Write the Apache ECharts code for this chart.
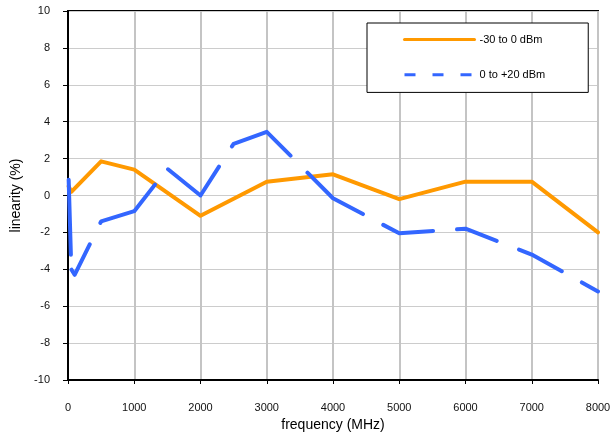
<!DOCTYPE html>
<html>
<head>
<meta charset="utf-8">
<script src="https://cdn.jsdelivr.net/npm/echarts@6/dist/echarts.min.js"></script>
<style>
html,body{margin:0;padding:0;background:#fff;}
#chart{width:611px;height:434px;}
</style>
</head>
<body>
<div id="chart"></div>
<script>
// Data
var seriesNames = ['-30 to 0 dBm', '0 to +20 dBm'];
var freqLow = [10, 50, 500, 1000, 2000, 3000, 4000, 5000, 6000, 7000, 8000];
var linLow  = [0.5, 0.2, 1.85, 1.4, -1.1, 0.75, 1.15, -0.2, 0.75, 0.75, -2.0];
var freqHigh = [10, 50, 100, 500, 1000, 1500, 2000, 2500, 3000, 4000, 5000, 6000, 7000, 8000];
var linHigh  = [0.85, -4.0, -4.3, -1.4, -0.85, 1.45, 0.0, 2.8, 3.45, -0.15, -2.05, -1.8, -3.2, -5.2];
var xTicks = { min: 0, max: 8000, step: 1000 };
var yTicks = { min: -10, max: 10, step: 2 };

function pairs(xs, ys) { return xs.map(function (x, i) { return [x, ys[i]]; }); }
function plain(v) { return String(v); }

// long-dash stroke pattern (line style only)
var blueDash = [75, 15, 40, 24, 70, 21, 76, 24, 72, 24, 70, 23, 52, 24, 42, 24, 48, 23, 60, 30];

var font = '"Liberation Sans", Arial, sans-serif';
var chart = echarts.init(document.getElementById('chart'), null, { renderer: 'canvas' });
chart.setOption({
  animation: false,
  backgroundColor: '#ffffff',
  textStyle: { fontFamily: font },
  grid: {
    left: 68, right: 13, top: 11, bottom: 54,
    containLabel: false, outerBoundsMode: 'none',
    show: true, borderColor: '#000', borderWidth: 2, backgroundColor: 'transparent'
  },
  legend: {
    show: true,
    orient: 'vertical',
    left: 367, top: 23,
    backgroundColor: '#fff',
    borderColor: '#000', borderWidth: 1,
    padding: [11, 43, 12, 36],
    itemWidth: 70, itemHeight: 14, itemGap: 24,
    itemStyle: { opacity: 0 },
    lineStyle: { width: 3 },
    textStyle: { fontFamily: font, fontSize: 11, color: '#000' },
    data: [
      { name: seriesNames[0] },
      { name: seriesNames[1], lineStyle: { type: [11, 17], cap: 'butt', dashOffset: 0 } }
    ]
  },
  xAxis: {
    type: 'value',
    min: xTicks.min, max: xTicks.max, interval: xTicks.step,
    name: 'frequency (MHz)', nameLocation: 'middle', nameGap: 34,
    nameTextStyle: { fontFamily: font, fontSize: 14, color: '#000' },
    axisLine: { show: true, onZero: false, lineStyle: { color: '#000', width: 2 } },
    axisTick: { show: true, inside: false, length: 4, lineStyle: { color: '#000', width: 1 } },
    axisLabel: { margin: 22, fontFamily: font, fontSize: 11, color: '#111', formatter: plain },
    splitLine: { show: true, lineStyle: { color: '#c4c4c4', width: 2 } }
  },
  yAxis: {
    type: 'value',
    min: yTicks.min, max: yTicks.max, interval: yTicks.step,
    name: 'linearity (%)', nameLocation: 'middle', nameGap: 34,
    nameTextStyle: { fontFamily: font, fontSize: 14, color: '#000' },
    axisLine: { show: true, onZero: false, lineStyle: { color: '#000', width: 2 } },
    axisTick: { show: true, inside: false, length: 5, lineStyle: { color: '#000', width: 1 } },
    axisLabel: { margin: 18, fontFamily: font, fontSize: 11, color: '#111', formatter: plain },
    splitLine: { show: true, lineStyle: { color: '#cccccc', width: 1 } }
  },
  series: [
    {
      name: seriesNames[0], type: 'line', symbol: 'none', z: 3,
      data: pairs(freqLow, linLow),
      lineStyle: { color: '#ff9900', width: 4, join: 'round', cap: 'round' },
      itemStyle: { color: '#ff9900' }
    },
    {
      name: seriesNames[1], type: 'line', symbol: 'none', z: 4,
      data: pairs(freqHigh, linHigh),
      lineStyle: { color: '#3366ff', width: 4, type: blueDash, dashOffset: 0, join: 'round', cap: 'round' },
      itemStyle: { color: '#3366ff' }
    }
  ]
});
</script>
</body>
</html>
